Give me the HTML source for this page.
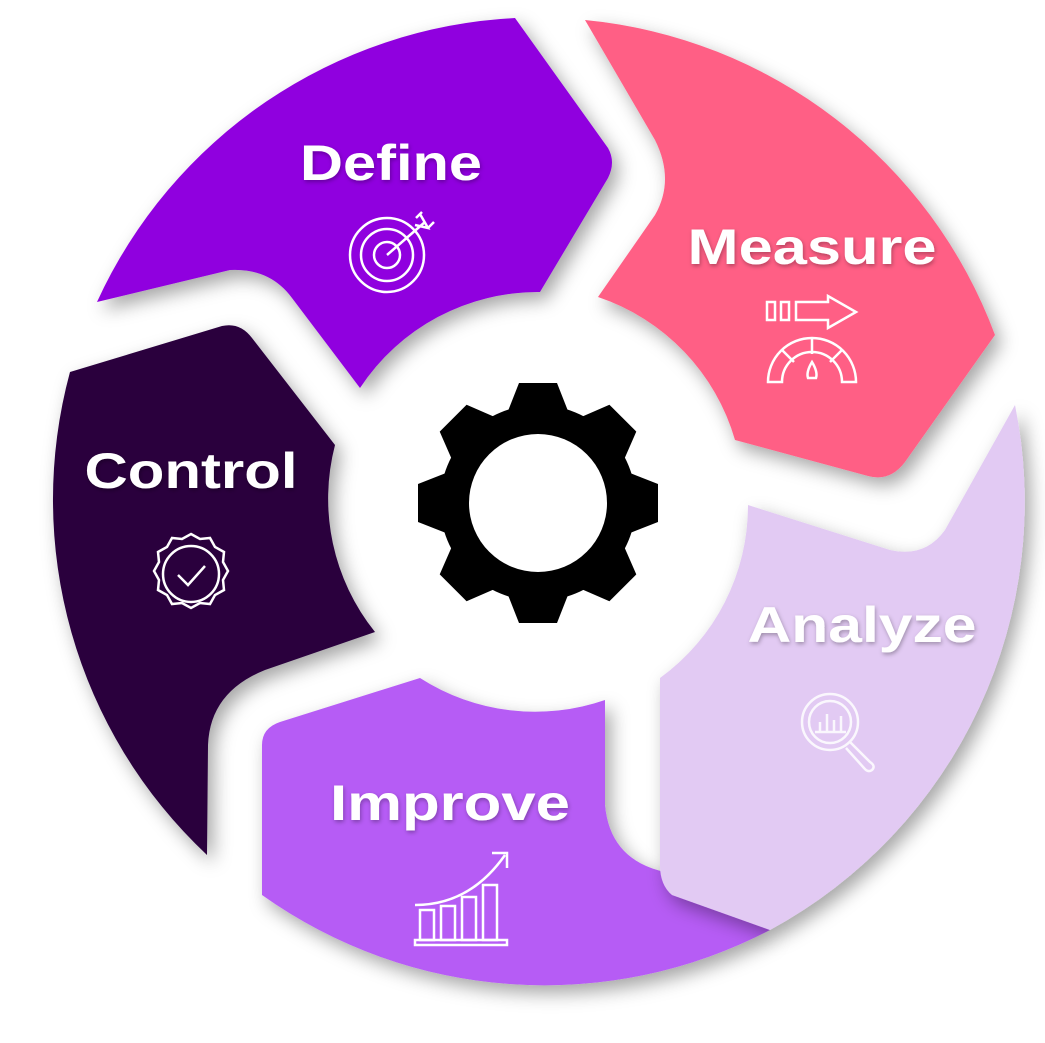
<!DOCTYPE html>
<html><head><meta charset="utf-8"><style>
html,body{margin:0;padding:0;background:#fff;}
svg{display:block}
text{font-family:"Liberation Sans",sans-serif;font-weight:bold;fill:#fff;text-anchor:middle}
</style></head><body>
<svg width="1045" height="1043" viewBox="0 0 1045 1043" xmlns="http://www.w3.org/2000/svg">
<defs>
<filter id="sh" x="-20%" y="-20%" width="140%" height="140%">
<feDropShadow dx="6" dy="8" stdDeviation="9" flood-color="#000" flood-opacity="0.35"/>
</filter>
<filter id="ts"><feDropShadow dx="1" dy="2" stdDeviation="2" flood-color="#000" flood-opacity="0.3"/></filter>
<polygon id="tooth" points="-19,-120 19,-120 30,-92 -30,-92"/>
</defs>
<!-- Define -->
<path filter="url(#sh)" fill="#9000df" d="M97,302 A487,487 0 0 1 515,18 L608,148 Q616,162 608,178 L540,292 A213,213 0 0 0 360,388 L292,298 Q270,268 230,270 Z"/>
<!-- Measure -->
<path filter="url(#sh)" fill="#ff5f85" d="M585,20 A487,487 0 0 1 995,335 L905,462 Q890,482 868,476 L735,440 A213,213 0 0 0 598,297 L655,215 Q675,180 655,140 Z"/>
<!-- Improve -->
<path filter="url(#sh)" fill="#b65cf5" d="M770,930 A487,487 0 0 1 262,895 L262,745 Q262,728 280,722 L420,678 A213,213 0 0 0 605,700 L605,805 Q610,860 665,872 Z"/>
<!-- Analyze -->
<path filter="url(#sh)" fill="#e2caf3" d="M1015,405 A487,487 0 0 1 770,930 L672,895 Q660,885 660,865 L660,678 A213,213 0 0 0 748,505 L890,550 Q925,558 945,530 Z"/>
<!-- Control -->
<path filter="url(#sh)" fill="#29003e" d="M207,855 A487,487 0 0 1 70,372 L222,326 Q240,322 252,338 L335,445 A213,213 0 0 0 375,632 L265,670 Q210,692 208,745 Z"/>
<!-- Gear -->
<g transform="translate(538,503)" fill="#000">
<circle r="98"/>
<use href="#tooth"/>
<use href="#tooth" transform="rotate(45)"/>
<use href="#tooth" transform="rotate(90)"/>
<use href="#tooth" transform="rotate(135)"/>
<use href="#tooth" transform="rotate(180)"/>
<use href="#tooth" transform="rotate(225)"/>
<use href="#tooth" transform="rotate(270)"/>
<use href="#tooth" transform="rotate(315)"/>
<circle r="69" fill="#fff"/>
</g>
<g filter="url(#ts)">
<text x="391" y="180" font-size="50" textLength="182" lengthAdjust="spacingAndGlyphs">Define</text>
<text x="812" y="264" font-size="50" textLength="249" lengthAdjust="spacingAndGlyphs">Measure</text>
<text x="191" y="488" font-size="50" textLength="213" lengthAdjust="spacingAndGlyphs">Control</text>
<text x="862" y="642" font-size="50" textLength="229" lengthAdjust="spacingAndGlyphs">Analyze</text>
<text x="450" y="820" font-size="50" textLength="240" lengthAdjust="spacingAndGlyphs">Improve</text>
</g>
<!-- Define icon -->
<g fill="none" stroke="#fff" stroke-width="2.5">
<circle cx="387" cy="255" r="37"/><circle cx="387" cy="255" r="26"/><circle cx="387" cy="255" r="13"/>
<path d="M387,255 L425,222 M416,218 L422,212 M428,228 L434,222 M420,214 L428,228 L415,225"/>
</g>
<!-- Measure icon -->
<g fill="none" stroke="#fff" stroke-width="2.5">
<rect x="767" y="302" width="8" height="18"/><rect x="781" y="302" width="8" height="18"/>
<path d="M796,302 H828 V296 L856,312 L828,328 V320 H796 Z"/>
<path d="M768,382 A44,44 0 0 1 856,382 H842 A30,30 0 0 0 782,382 Z"/>
<path d="M812,338 V354 M782,350 L794,362 M842,350 L830,362"/>
<path d="M812,362 Q806,372 808,378 H816 Q818,372 812,362 Z"/>
</g>
<!-- Control icon -->
<g fill="none" stroke="#fff" stroke-width="2.5">
<circle cx="191" cy="574" r="28"/>
<path d="M191,534 l9,5 10,-1 5,9 9,5 -1,10 5,9 -5,9 1,10 -9,5 -5,9 -10,-1 -9,5 -9,-5 -10,1 -5,-9 -9,-5 1,-10 -5,-9 5,-9 -1,-10 9,-5 5,-9 10,1 Z"/>
<path d="M178,575 L188,585 L205,566"/>
</g>
<!-- Analyze icon -->
<g fill="none" stroke="#fff" stroke-width="2.5" opacity="0.85">
<circle cx="830" cy="722" r="28"/><circle cx="830" cy="722" r="21"/>
<path d="M850,742 L870,762 Q876,766 872,770 Q868,773 864,768 L846,748"/>
<path d="M815,732 H846 M820,732 V722 M827,732 V714 M834,732 V720 M841,732 V716"/>
</g>
<!-- Improve icon -->
<g fill="none" stroke="#fff" stroke-width="2.5">
<path d="M415,905 Q470,905 505,855 M492,853 H507 V868"/>
<rect x="420" y="910" width="14" height="30"/><rect x="441" y="906" width="14" height="34"/>
<rect x="462" y="897" width="14" height="43"/><rect x="483" y="885" width="14" height="55"/>
<rect x="415" y="940" width="92" height="5"/>
</g>
</svg>
</body></html>
